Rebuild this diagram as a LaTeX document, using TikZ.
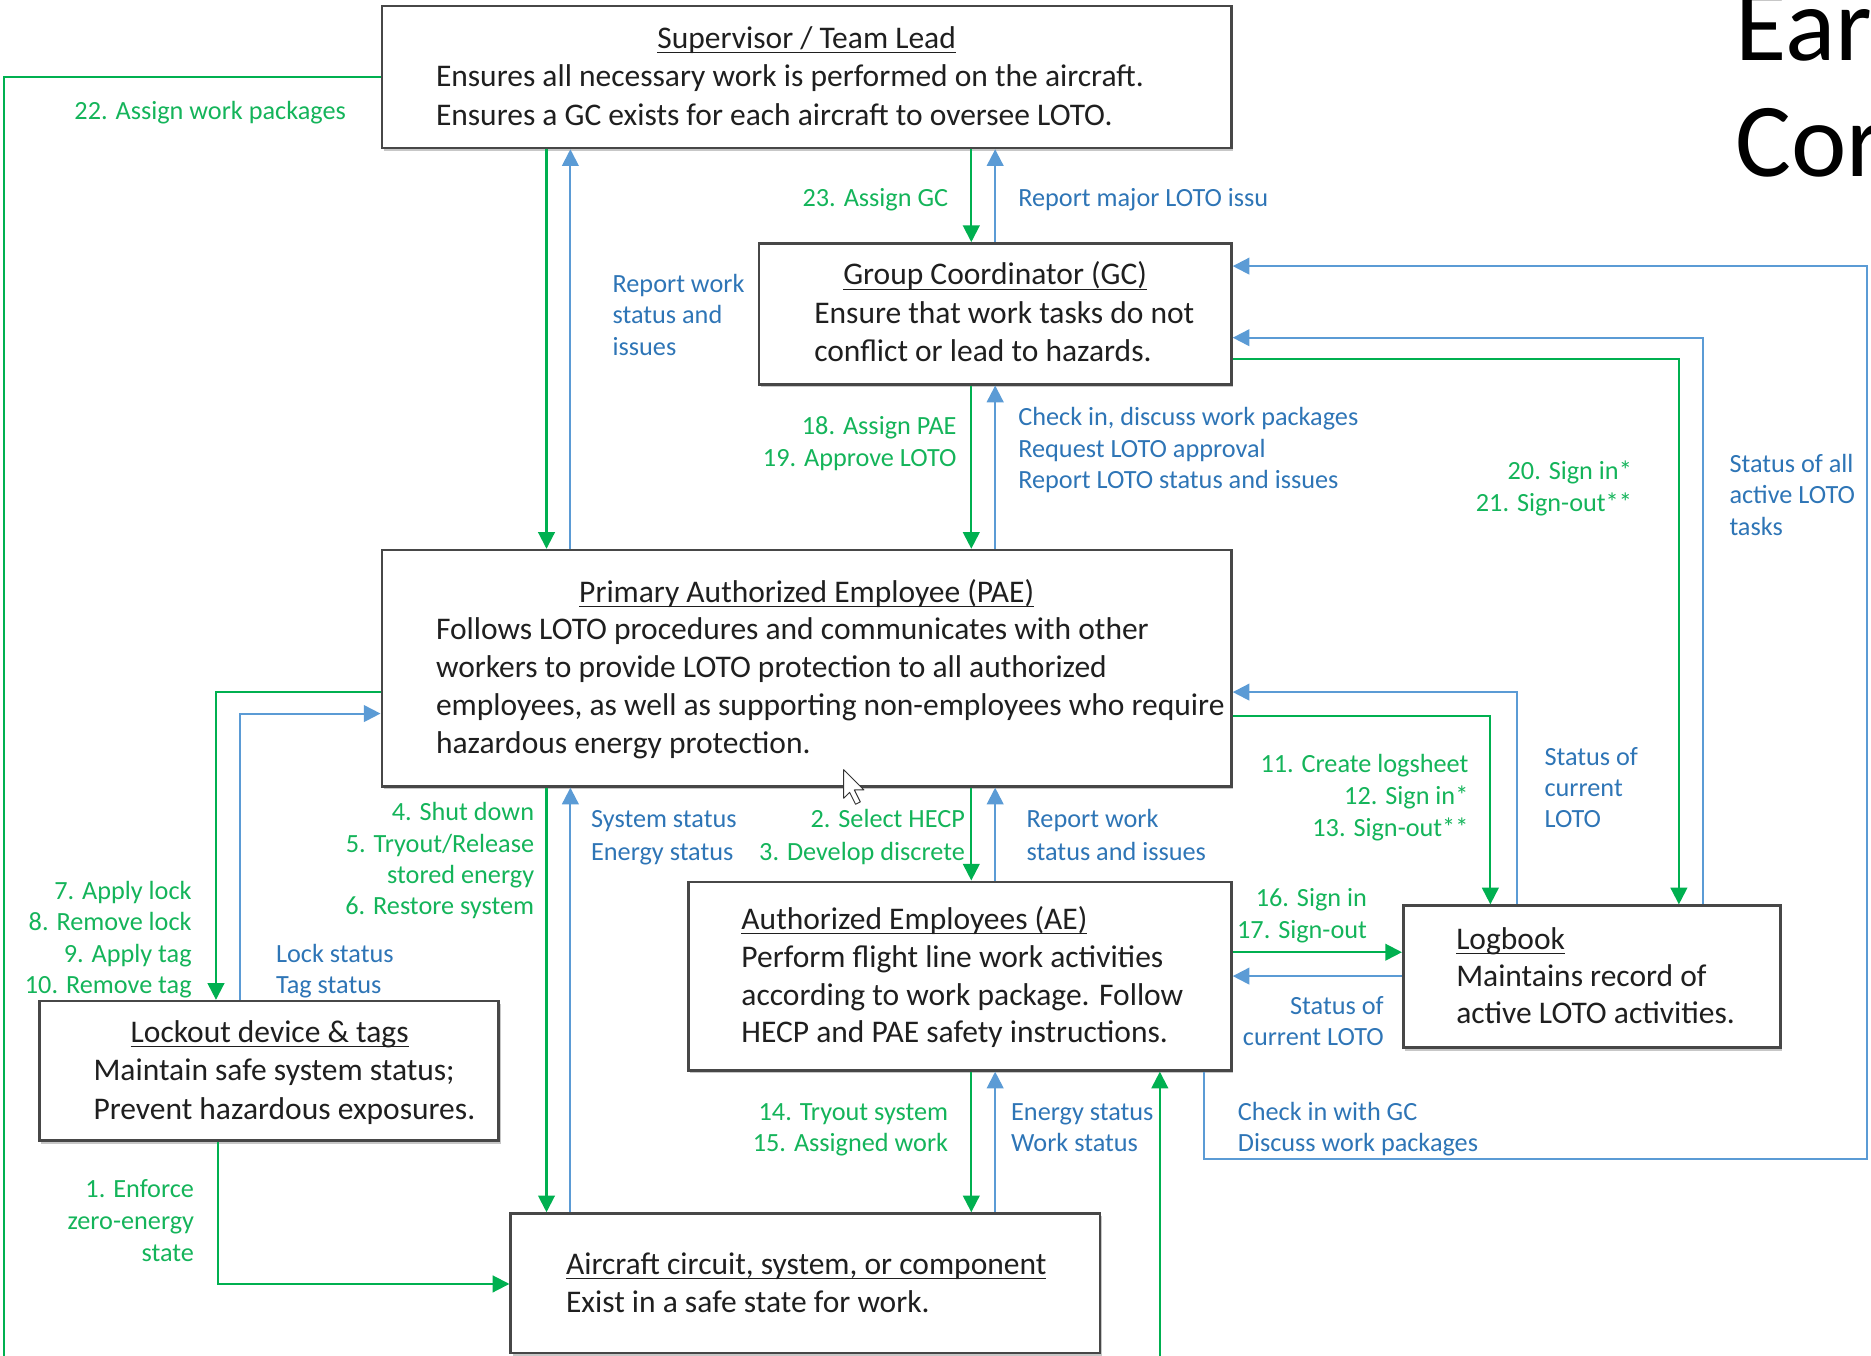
\documentclass[tikz,border=0pt]{standalone}
\usepackage{fontspec}
\setmainfont{Carlito}
\usetikzlibrary{arrows.meta,fit,shadows}

\definecolor{lgreen}{HTML}{00B050}
\definecolor{lblue}{HTML}{5B9BD5}
\definecolor{tgreen}{HTML}{14B45A}
\definecolor{tblue}{HTML}{2E75B6}

\newcommand{\bxfont}{\fontsize{13.2}{15.8}\selectfont}
\newcommand{\lbfont}{\fontsize{11}{13.3}\selectfont}
% underline set just below the baseline
\newcommand{\uln}[1]{\setbox0\hbox{#1}\rlap{\rule[-2pt]{\wd0}{0.5pt}}\box0}

% one node per line of a stacked label: name, style, anchor, x, y of first line, line step, lines
\newcommand{\textlines}[7]{%
  \foreach \txt [count=\idx from 0] in {#7}{%
    \node[#2,anchor=#3] (#1-\idx) at ({#4},{#5+\idx*#6}) {\txt};}}

\tikzset{
  box/.style={draw=black!72, line width=1.1pt, fill=white, inner sep=0pt,
    drop shadow={shadow xshift=0.8pt, shadow yshift=-1.2pt, fill=black, opacity=0.22}},
  gl/.style={draw=lgreen, line width=0.85pt},
  bl/.style={draw=lblue, line width=0.85pt},
  ga/.style={gl, -{Triangle[length=7pt,width=7pt]}},
  ba/.style={bl, -{Triangle[length=7pt,width=7pt]}},
  body/.style={font=\bxfont, text=black!88, inner sep=0pt, yshift=-1.5pt},
  ttl/.style={body},
  glab/.style={font=\lbfont, text=tgreen, inner sep=0pt, yshift=-1.5pt},
  blab/.style={font=\lbfont, text=tblue, inner sep=0pt, yshift=-1.5pt},
}

\begin{document}
\begin{tikzpicture}[x=0.5pt,y=-0.5pt]
\useasboundingbox (0,0) rectangle (1568,1136);

% ---------- boxes ----------
\node[box, fit={(320,5) (1032,124)}]   (sup)  {};
\node[box, fit={(636,204) (1032,322)}] (gc)   {};
\node[box, fit={(320,461) (1032,659)}] (pae)  {};
\node[box, fit={(577,739) (1032,897)}] (ae)   {};
\node[box, fit={(1176,759) (1492,878)}] (log) {};
\node[box, fit={(33,839) (418,956)}]   (lock) {};
\node[box, fit={(428,1017) (922,1134)}] (air) {};

% ---------- box texts ----------
\node[ttl, anchor=mid] (supT) at (676,33) {\uln{Supervisor / Team Lead}};
\textlines{supB}{body}{mid west}{365}{65}{32}{{Ensures all necessary work is performed on the aircraft.},{Ensures a GC exists for each aircraft to oversee LOTO.}}

\node[ttl, anchor=mid] (gcT) at (834,231) {\uln{Group Coordinator (GC)}};
\textlines{gcB}{body}{mid west}{682}{263}{32}{{Ensure that work tasks do not},{conflict or lead to hazards.}}

\node[ttl, anchor=mid] (paeT) at (676,497) {\uln{Primary Authorized Employee (PAE)}};
\textlines{paeB}{body}{mid west}{365}{528}{32}{{Follows LOTO procedures and communicates with other},{workers to provide LOTO protection to all authorized},{employees, as well as supporting non-employees who require},{hazardous energy protection.}}

\node[ttl, anchor=mid west] (aeT) at (621,771) {\uln{Authorized Employees (AE)}};
\textlines{aeB}{body}{mid west}{621}{803}{31.5}{{Perform flight line work activities},{according to work package. Follow},{HECP and PAE safety instructions.}}

\node[ttl, anchor=mid west] (logT) at (1220,788) {\uln{Logbook}};
\textlines{logB}{body}{mid west}{1220}{819}{31}{{Maintains record of},{active LOTO activities.}}

\node[ttl, anchor=mid] (lockT) at (226,866) {\uln{Lockout device \& tags}};
\textlines{lockB}{body}{mid west}{78}{898}{32}{{Maintain safe system status;},{Prevent hazardous exposures.}}

\node[ttl, anchor=mid west] (airT) at (474,1060) {\uln{Aircraft circuit, system, or component}};
\node[body, anchor=mid west] (airB) at (474,1092) {Exist in a safe state for work.};

% ---------- slide title, cut by the page edge ----------
\node[anchor=base west, inner sep=0pt, font=\fontsize{44}{50}\selectfont, text=black] (head1) at (1454,51) {Ear};
\node[anchor=base west, inner sep=0pt, font=\fontsize{44}{50}\selectfont, text=black] (head2) at (1454,148) {Cor};

% ---------- connectors ----------
% supervisor
\draw[ga] (sup.west) -| (3,1170) -| (ae.south -| 972,0);
\draw[ga] (sup.south -| 458,0) -- (pae.north -| 458,0);
\draw[ba] (pae.north -| 478,0) -- (sup.south -| 478,0);
\draw[ga] (sup.south -| 814,0) -- (gc.north -| 814,0);
\draw[ba] (gc.north -| 834,0) -- (sup.south -| 834,0);
% group coordinator
\draw[ga] (gc.south -| 814,0) -- (pae.north -| 814,0);
\draw[ba] (pae.north -| 834,0) -- (gc.south -| 834,0);
\draw[ba] (ae.south -| 1009,0) |- (1565,971) |- (gc.east |- 0,223);
\draw[ba] (log.north -| 1427,0) |- (gc.east |- 0,283);
\draw[ga] (gc.east |- 0,301) -| (log.north -| 1407,0);
% primary authorized employee
\draw[ba] (log.north -| 1271,0) |- (pae.east |- 0,580);
\draw[ga] (pae.east |- 0,600) -| (log.north -| 1249,0);
\draw[ga] (pae.west |- 0,580) -| (lock.north -| 181,0);
\draw[ba] (lock.north -| 201,0) |- (pae.west |- 0,598);
\draw[ga] (pae.south -| 458,0) -- (air.north -| 458,0);
\draw[ba] (air.north -| 478,0) -- (pae.south -| 478,0);
\draw[ga] (pae.south -| 814,0) -- (ae.north -| 814,0);
\draw[ba] (ae.north -| 834,0) -- (pae.south -| 834,0);
% authorized employees
\draw[ga] (ae.east |- 0,798) -- (log.west |- 0,798);
\draw[ba] (log.west |- 0,818) -- (ae.east |- 0,818);
\draw[ga] (ae.south -| 814,0) -- (air.north -| 814,0);
\draw[ba] (air.north -| 834,0) -- (ae.south -| 834,0);
% lockout device
\draw[ga] (lock.south -| 183,0) |- (air.west |- 0,1076);

% ---------- connector labels ----------
\node[glab, anchor=mid west] (l22) at (62,92) {22. Assign work packages};
\textlines{lsupr}{blab}{mid west}{513}{237}{26.5}{{Report work},{status and},{issues}}
\node[glab, anchor=mid east] (l23) at (795,165) {23. Assign GC};
\node[blab, anchor=mid west] (lmaj) at (853,165) {Report major LOTO issu};
\textlines{l18}{glab}{mid east}{802}{356}{27}{{18. Assign PAE},{19. Approve LOTO}}
\textlines{lchk}{blab}{mid west}{853}{349}{26.5}{{Check in, discuss work packages},{Request LOTO approval},{Report LOTO status and issues}}
\textlines{l20}{glab}{mid east}{1368}{394}{27}{{20. Sign in*},{21. Sign-out**}}
\textlines{lall}{blab}{mid west}{1449}{388}{26.5}{{Status of all},{active LOTO},{tasks}}
\textlines{l11}{glab}{mid east}{1231}{640}{26.5}{{11. Create logsheet},{12. Sign in*},{13. Sign-out**}}
\textlines{lcur}{blab}{mid west}{1294}{634}{26}{{Status of},{current},{LOTO}}
\textlines{l7}{glab}{mid east}{161}{746}{26.3}{{7. Apply lock},{8. Remove lock},{9. Apply tag},{10. Remove tag}}
\textlines{llck}{blab}{mid west}{231}{799}{26}{{Lock status},{Tag status}}
\textlines{l4}{glab}{mid east}{448}{680}{26.3}{{4. Shut down},{5. Tryout/Release},{stored energy},{6. Restore system}}
\textlines{lsys}{blab}{mid west}{495}{686}{27}{{System status},{Energy status}}
\textlines{l2}{glab}{mid east}{809}{686}{27}{{2. Select HECP},{3. Develop discrete}}
\textlines{lrep}{blab}{mid west}{860}{686}{27}{{Report work},{status and issues}}
\textlines{l16}{glab}{mid east}{1146}{752}{27}{{16. Sign in},{17. Sign-out}}
\textlines{lsoc}{blab}{mid east}{1160}{842}{26}{{Status of},{current LOTO}}
\textlines{l14}{glab}{mid east}{795}{931}{26}{{14. Tryout system},{15. Assigned work}}
\textlines{lenr}{blab}{mid west}{847}{931}{26}{{Energy status},{Work status}}
\textlines{lgc}{blab}{mid west}{1037}{931}{26}{{Check in with GC},{Discuss work packages}}
\textlines{l1}{glab}{mid east}{163}{996}{26.5}{{1. Enforce},{zero-energy},{state}}

% ---------- mouse pointer ----------
\draw[fill=white, draw=black!80, line width=0.4pt, line join=round]
  (707,645) -- ++(0,24) -- ++(5,-5) -- ++(5,10) -- ++(4,-2) -- ++(-5,-10) -- ++(8,0) -- cycle;
\end{tikzpicture}
\end{document}
